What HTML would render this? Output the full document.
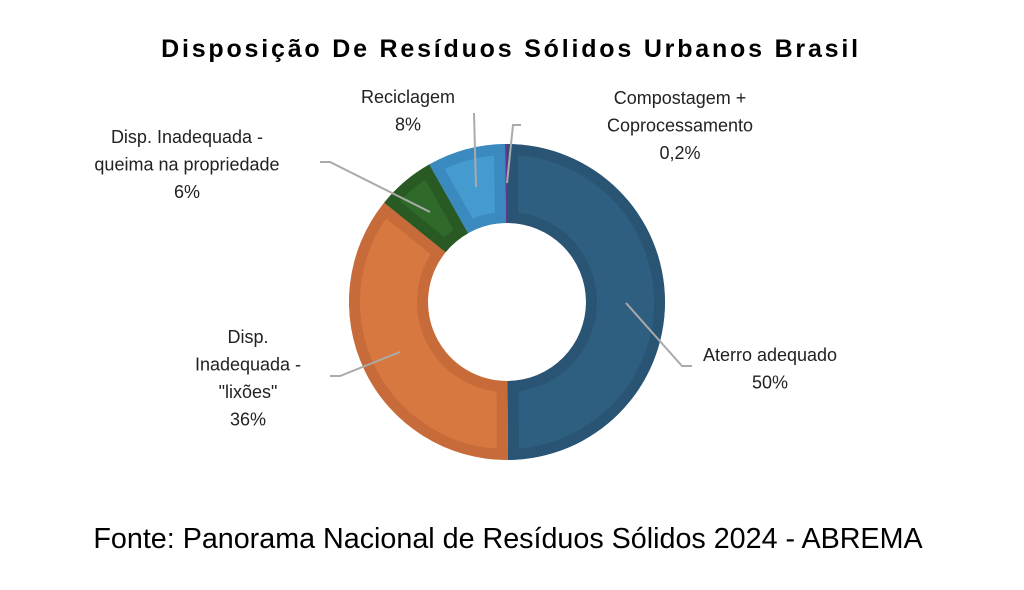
<!DOCTYPE html>
<html><head><meta charset="utf-8"><style>
body{margin:0;background:#fff;width:1024px;height:585px;overflow:hidden;font-family:"Liberation Sans",sans-serif}
</style></head><body>
<svg width="1024" height="585" xmlns="http://www.w3.org/2000/svg">
<text x="511" y="57" text-anchor="middle" font-size="25" font-weight="bold" letter-spacing="2.8" fill="#000">Disposição De Resíduos Sólidos Urbanos Brasil</text>
<g id="donut"></g>
<g id="labels" font-size="18" fill="#222" text-anchor="middle"></g>
<text x="508" y="548" text-anchor="middle" font-size="28.7" fill="#000">Fonte: Panorama Nacional de Resíduos Sólidos 2024 - ABREMA</text>
</svg>
<script>
const categories=["Aterro adequado","Disp. Inadequada - lixões","Disp. Inadequada - queima","Reciclagem","Compostagem + Coprocessamento"];
const values=[50,36,6,8,0.2];
const fills=["#2e5f80","#d77841","#2f6a2a","#459bd0","#7a3fa0"];
const borders=["#2a5474","#c66b39","#2a5a24","#3a89bf","#6a3590"];
const cx=507,cy=302,R=158,r0=79;
const total=values.reduce((a,b)=>a+b,0);
const ns="http://www.w3.org/2000/svg";
const g=document.getElementById('donut');
function pt(a,rad){return [cx+rad*Math.sin(a),cy-rad*Math.cos(a)];}
let acc=0;
values.forEach((v,i)=>{
 const a0=acc/total*2*Math.PI;acc+=v;const a1=acc/total*2*Math.PI;
 const lg=(a1-a0)>Math.PI?1:0;
 const p1=pt(a0,R),p2=pt(a1,R),p3=pt(a1,r0),p4=pt(a0,r0);
 const d=`M${p1}A${R},${R} 0 ${lg} 1 ${p2}L${p3}A${r0},${r0} 0 ${lg} 0 ${p4}Z`;
 const cp=document.createElementNS(ns,'clipPath');cp.setAttribute('id','c'+i);
 const cpp=document.createElementNS(ns,'path');cpp.setAttribute('d',d);cp.appendChild(cpp);g.appendChild(cp);
 const p=document.createElementNS(ns,'path');
 
 
 p.setAttribute('d',d);p.setAttribute('fill',fills[i]);p.setAttribute('stroke',borders[i]);
 p.setAttribute('stroke-width','22');p.setAttribute('clip-path','url(#c'+i+')');
 g.appendChild(p);
});
const L=document.getElementById('labels');
function line(pts,name){const pl=document.createElementNS(ns,'polyline');
 
 
 pl.setAttribute('points',pts);pl.setAttribute('fill','none');pl.setAttribute('stroke','#aaa');pl.setAttribute('stroke-width','2');L.appendChild(pl);}
function txt(x,ys,lines,name){const t=document.createElementNS(ns,'text');
 
 
 lines.forEach((s,k)=>{const ts=document.createElementNS(ns,'tspan');ts.setAttribute('x',x);ts.setAttribute('y',ys+k*27.5);ts.textContent=s;t.appendChild(ts);});L.appendChild(t);}
line("626,303 682,366 692,366","leader-aterro");
line("400,352 340,376 330,376","leader-lixoes");
line("430,212 330,162 320,162","leader-queima");
line("476,187 474,113","leader-reciclagem");
line("507,183 513,125 521,125","leader-compostagem");
const pct=values.map(v=>(v<1?String(v).replace('.',','):Math.round(v))+'%');
txt(770,361,["Aterro adequado",pct[0]],"label-aterro");
txt(248,343,["Disp.","Inadequada -","\"lixões\"",pct[1]],"label-lixoes");
txt(187,143,["Disp. Inadequada -","queima na propriedade",pct[2]],"label-queima");
txt(408,103,["Reciclagem",pct[3]],"label-reciclagem");
txt(680,104,["Compostagem +","Coprocessamento",pct[4]],"label-compostagem");
</script>
</body></html>
